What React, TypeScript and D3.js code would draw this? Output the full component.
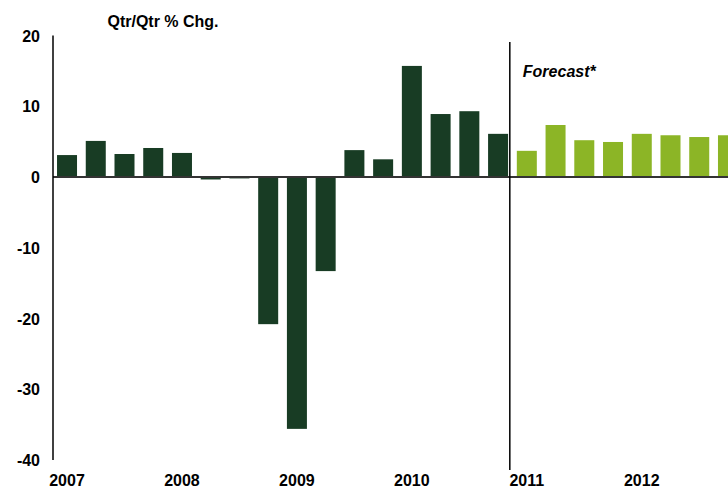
import React from 'react';
import * as d3 from 'd3';

// quarterly % change, actuals then forecast
const years = ['2007', '2008', '2009', '2010', '2011', '2012'];
const actualValues = [3.1, 5.1, 3.25, 4.1, 3.4, -0.35, -0.2, -20.8, -35.6, -13.3, 3.8, 2.5, 15.7, 8.9, 9.3, 6.1];
const forecastValues = [3.7, 7.35, 5.2, 4.95, 6.1, 5.9, 5.65, 5.9];
const yTicks = [20, 10, 0, -10, -20, -30, -40];

const width = 728;
const height = 490;
const font = "'Liberation Sans', Arial, sans-serif";

const quarters = years.flatMap(y => ['Q1', 'Q2', 'Q3', 'Q4'].map(q => `${y}${q}`));

const bars = [
    ...actualValues.map((v, i) => ({ q: quarters[i], value: v, forecast: false })),
    ...forecastValues.map((v, i) => ({ q: quarters[actualValues.length + i], value: v, forecast: true })),
];

const App = () => {
    const xScale = d3.scaleBand()
        .domain(quarters)
        .range([53, 742])
        .paddingInner(0.304)
        .paddingOuter(0.14);

    const yScale = d3.scaleLinear()
        .domain([-40, 20])
        .range([460, 35.5]);

    const zero = yScale(0);
    const forecastX = (xScale(quarters[actualValues.length]) ?? 0) - 7;

    return (
        <svg width={width} height={height} style={{ position: 'absolute', left: 0, top: 0 }} fontFamily={font}>
            <text x={163} y={27} textAnchor="middle" fontSize={16} fontWeight="bold">Qtr/Qtr % Chg.</text>

            {bars.map(d => (
                <rect
                    key={d.q}
                    x={xScale(d.q)}
                    width={xScale.bandwidth()}
                    y={yScale(Math.max(0, d.value))}
                    height={Math.abs(yScale(d.value) - zero)}
                    fill={d.forecast ? '#8cb526' : '#183c24'}
                />
            ))}

            {/* zero line */}
            <line x1={53} x2={width} y1={zero} y2={zero} stroke="#333" strokeWidth={2} />

            {/* y axis */}
            <line x1={53} x2={53} y1={yScale(20)} y2={yScale(-40)} stroke="#000" strokeWidth={1.5} />
            {yTicks.map(t => (
                <text key={t} x={40} y={yScale(t) + 6} textAnchor="end" fontSize={16} fontWeight="bold">{t}</text>
            ))}

            {/* forecast divider */}
            <line x1={forecastX} x2={forecastX} y1={42} y2={470} stroke="#000" strokeWidth={1.5} />
            <text x={forecastX + 13} y={77} fontSize={16} fontWeight="bold" fontStyle="italic">Forecast*</text>

            {years.map(y => (
                <text
                    key={y}
                    x={(xScale(`${y}Q1`) ?? 0) + xScale.bandwidth() / 2}
                    y={486}
                    textAnchor="middle"
                    fontSize={16}
                    fontWeight="bold"
                >{y}</text>
            ))}
        </svg>
    );
};

export default App;
